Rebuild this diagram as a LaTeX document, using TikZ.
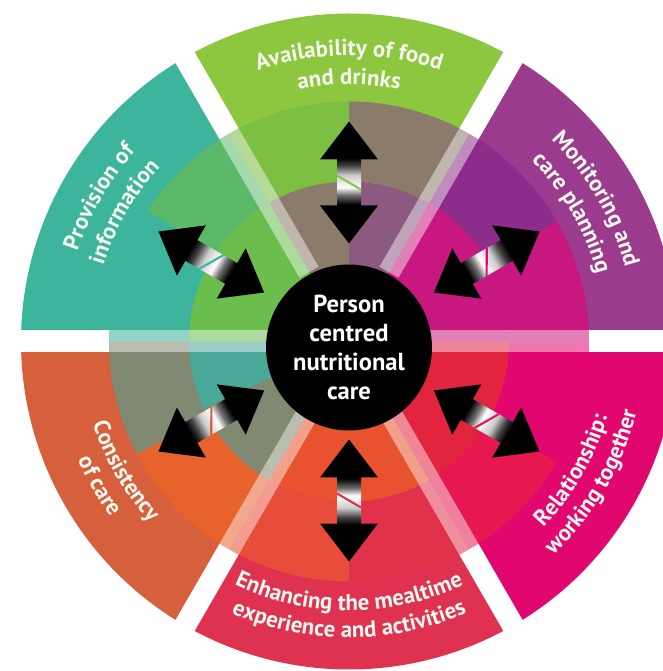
\documentclass[tikz,border=0pt]{standalone}
\usepackage{fontspec}
\setmainfont{PT Sans}
\usetikzlibrary{decorations.text}

% band colours of the six sectors
\definecolor{monpurple}{HTML}{9A3B8E}
\definecolor{foodgreen}{HTML}{8DC63F}
\definecolor{infoteal}{HTML}{3CB59C}
\definecolor{careorange}{HTML}{D5603B}
\definecolor{mealred}{HTML}{DF3150}
\definecolor{relpink}{HTML}{E2066F}
% tones of the overlapping inner rings
\definecolor{tonemagenta}{HTML}{C8177F}
\definecolor{tonepurple}{HTML}{8E2C8C}
\definecolor{tonebrown}{HTML}{8B7B6B}
\definecolor{tonegreen}{HTML}{7CBF42}
\definecolor{tonemint}{HTML}{5CB96A}
\definecolor{tonegrey}{HTML}{808A72}
\definecolor{toneorange}{HTML}{E8632C}
\definecolor{tonevermil}{HTML}{E84C3A}
\definecolor{tonered}{HTML}{E2324B}
\definecolor{tonecrimson}{HTML}{E6184F}
\definecolor{tonemauve}{HTML}{8C5A80}
\definecolor{tonelgreen}{HTML}{6BBD4D}
\definecolor{tonesea}{HTML}{4AA898}
\definecolor{toneflame}{HTML}{E8522F}
\definecolor{tonescarlet}{HTML}{E3243F}
\definecolor{labelwhite}{HTML}{F6F7EE}

\pgfdeclarehorizontalshading{arrowshade}{100bp}{color(0bp)=(black); color(41bp)=(black); color(45bp)=(black!55); color(48bp)=(white); color(53bp)=(black!20); color(57bp)=(black!75); color(60bp)=(black); color(100bp)=(black)}

\newcommand\lblfont{\bfseries\fontsize{13}{15}\selectfont}

\begin{document}
\begin{tikzpicture}[
    x=0.02cm, y=0.02cm,
    hub/.style={circle, fill=black, text=white, minimum size=3.32cm, inner sep=0pt, align=center, font=\bfseries\fontsize{14}{16.5}\selectfont},
    lbl/.style={decorate, decoration={text along path, text align=center, text color=labelwhite}},
    gapband/.style={fill=white},
]
\useasboundingbox (-349,-329.5) rectangle (313,341.5);
\fill[white] (-349,-329.5) rectangle (313,341.5);

% sectors
\foreach \a/\b/\c in {0/60/monpurple, 60/120/foodgreen, 120/180/infoteal, 180/240/careorange, 240/300/mealred, 300/360/relpink}
  \fill[\c] (0,0) -- (\a:328) arc (\a:\b:328) -- cycle;

% outer ring of overlaps
\foreach \a/\b/\c in {0/30/tonemagenta, 30/60/tonepurple, 60/90/tonebrown, 90/120/tonegreen, 120/147/tonemint, 147/180/infoteal, 180/208/tonegrey, 208/240/toneorange, 240/270/tonevermil, 270/300/tonered, 300/330/tonecrimson, 330/360/relpink}
  \fill[\c] (\a:160) arc (\a:\b:160) -- (\b:240) arc (\b:\a:240) -- cycle;

% inner ring of overlaps
\foreach \a/\b/\c in {0/60/tonemagenta, 60/90/tonemauve, 90/120/tonebrown, 120/180/tonelgreen, 180/205/tonesea, 205/240/tonegrey, 240/300/toneflame, 300/360/tonescarlet}
  \fill[\c] (0,0) -- (\a:160) arc (\a:\b:160) -- cycle;

% gaps between the sectors
\foreach \a in {0,60,...,300} {
  \fill[gapband, rotate=\a] (240,-11) rectangle (345,11);
  \fill[gapband, opacity=.45, rotate=\a] (80,-11) rectangle (240,11);
}

% double arrows
\foreach \a/\c in {30/relpink, 90/foodgreen, 150/infoteal, 210/careorange, 270/mealred, 330/tonecrimson} {
  \begin{scope}[transform canvas={rotate=\a}]
    \shade[shading=arrowshade] (98,0) -- (136,29) -- (136,12) -- (182,12) -- (182,29) -- (220,0)
      -- (182,-29) -- (182,-12) -- (136,-12) -- (136,-29) -- cycle;
    \draw[\c, line width=1.2pt] (152,-12) -- (166,12);
  \end{scope}
}

\node[hub] (hub) at (0,-6) {Person\\centred\\nutritional\\care};

% labels along the arcs
\path[lbl, decoration={text={|\lblfont|Availability of food}}] (120:286) arc (120:60:286);
\path[lbl, decoration={text={|\lblfont|and drinks}}] (120:257) arc (120:60:257);
\path[lbl, decoration={text={|\lblfont|Provision of}}] (180:286) arc (180:120:286);
\path[lbl, decoration={text={|\lblfont|information}}] (180:257) arc (180:120:257);
\path[lbl, decoration={text={|\lblfont|Monitoring and}}] (60:286) arc (60:0:286);
\path[lbl, decoration={text={|\lblfont|care planning}}] (60:257) arc (60:0:257);
\path[lbl, decoration={text={|\lblfont|Consistency}}] (180:269) arc (180:240:269);
\path[lbl, decoration={text={|\lblfont|of care}}] (180:296) arc (180:240:296);
\path[lbl, decoration={text={|\lblfont|Enhancing the mealtime}}] (240:269) arc (240:300:269);
\path[lbl, decoration={text={|\lblfont|experience and activities}}] (240:296) arc (240:300:296);
\path[lbl, decoration={text={|\lblfont|Relationship:}}] (300:269) arc (300:360:269);
\path[lbl, decoration={text={|\lblfont|working together}}] (300:296) arc (300:360:296);
\end{tikzpicture}
\end{document}
